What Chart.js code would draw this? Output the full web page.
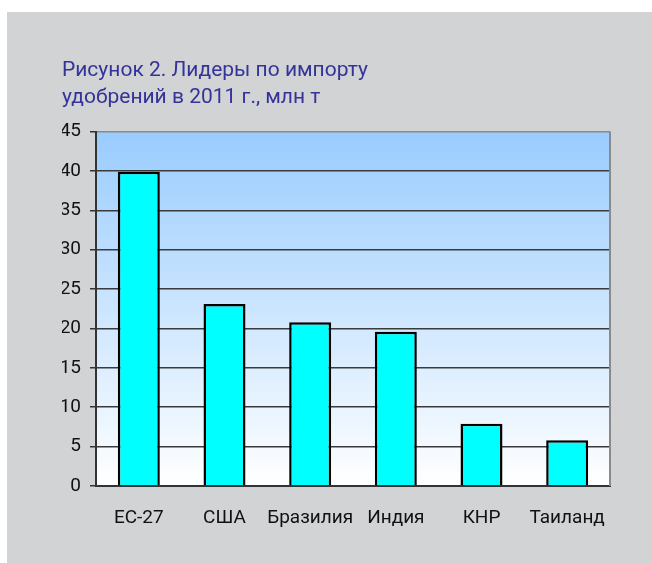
<!DOCTYPE html>
<html lang="ru">
<head>
<meta charset="UTF-8">
<title>Лидеры по импорту удобрений</title>
<script src="https://cdn.jsdelivr.net/npm/chart.js@4.4.1/dist/chart.umd.min.js"></script>
<style>
    body { margin: 0; background: #fff; }
    .panel {
        position: absolute;
        left: 7px; top: 12px;
        width: 645px; height: 551px;
        background: #d2d3d5;
    }
    #importChart { display: block; }
</style>
</head>
<body>
<div class="panel">
    <canvas id="importChart" width="645" height="551"></canvas>
</div>
<script>
    // data (млн т)
    const countries = ['ЕС-27', 'США', 'Бразилия', 'Индия', 'КНР', 'Таиланд'];
    const imports = [39.9, 23.1, 20.8, 19.6, 7.9, 5.8];
    const titleLines = ['Рисунок 2. Лидеры по импорту', 'удобрений в 2011 г., млн т'];
    const yMax = 45;
    const yStep = 5;

    // blue-to-white plot background + grey frame on the right
    const plotBackground = {
        id: 'plotBackground',
        beforeDraw(chart) {
            const { ctx, chartArea: a } = chart;
            const grad = ctx.createLinearGradient(0, a.top, 0, a.bottom);
            grad.addColorStop(0, '#99ccff');
            grad.addColorStop(1, '#ffffff');
            ctx.save();
            ctx.fillStyle = grad;
            ctx.fillRect(a.left, a.top, a.right - a.left, a.bottom - a.top);
            ctx.restore();
        },
        afterDraw(chart) {
            const { ctx, chartArea: a } = chart;
            ctx.save();
            ctx.strokeStyle = '#8a8a8a';
            ctx.lineWidth = 2;
            ctx.beginPath();
            ctx.moveTo(a.right, a.top);
            ctx.lineTo(a.right, a.bottom);
            ctx.stroke();
            ctx.restore();
        }
    };

    Chart.defaults.font.family = 'Roboto';

    const ctx = document.getElementById('importChart').getContext('2d');
    const importChart = new Chart(ctx, {
        type: 'bar',
        data: {
            labels: countries,
            datasets: [{
                data: imports,
                backgroundColor: '#00ffff',
                borderColor: '#000000',
                borderWidth: 2.5,
                barPercentage: 0.49,
                categoryPercentage: 1
            }]
        },
        options: {
            responsive: false,
            animation: false,
            layout: {
                padding: { left: 55, right: 42, top: 45, bottom: 33 }
            },
            plugins: {
                legend: { display: false },
                tooltip: { enabled: false },
                title: {
                    display: true,
                    text: titleLines,
                    align: 'start',
                    color: '#333399',
                    font: { size: 21, weight: 'normal', lineHeight: 1.3 },
                    padding: { top: 0, bottom: 20 }
                }
            },
            scales: {
                x: {
                    afterFit: s => { s.height = 44; },
                    grid: { display: false, drawTicks: false },
                    border: { color: '#333', width: 2 },
                    ticks: {
                        color: '#111',
                        font: { size: 19 },
                        padding: 21,
                        maxRotation: 0,
                        autoSkip: false
                    }
                },
                y: {
                    min: 0,
                    max: yMax,
                    afterFit: s => { s.width = 34; },
                    grid: {
                        color: c => c.tick && c.tick.value === yMax ? '#8a8a8a' : '#3a3a3a',
                        lineWidth: 1.5,
                        tickLength: 6,
                        tickColor: '#333'
                    },
                    border: { color: '#333', width: 2 },
                    ticks: {
                        stepSize: yStep,
                        color: '#111',
                        font: { size: 19 },
                        padding: 9
                    }
                }
            }
        },
        plugins: [plotBackground]
    });
</script>
</body>
</html>
